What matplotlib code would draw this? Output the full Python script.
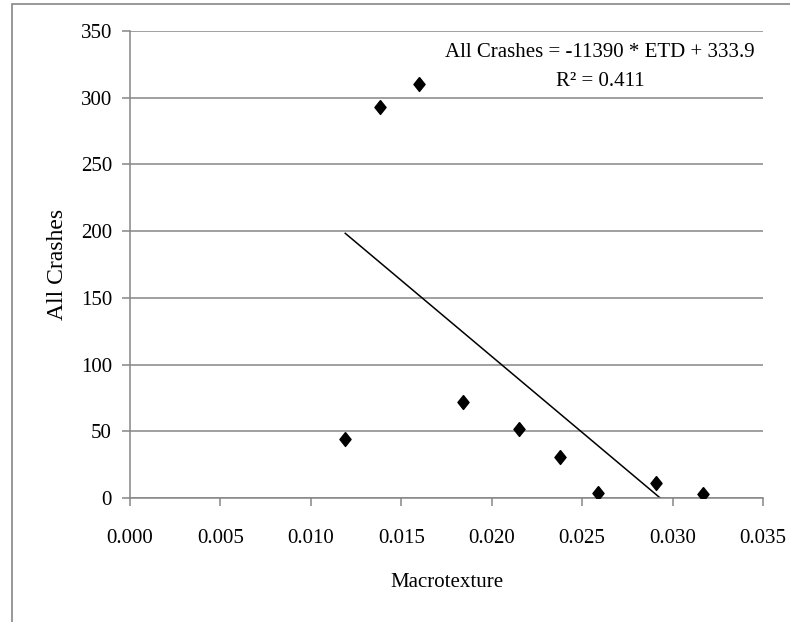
import numpy as np
import matplotlib
matplotlib.use("Agg")
import matplotlib.pyplot as plt
from matplotlib.patches import Rectangle

plt.rcParams["font.family"] = ["Liberation Serif", "DejaVu Serif"]

macrotexture = [0.0119, 0.0138, 0.0160, 0.0184, 0.0215, 0.0238, 0.0259, 0.0291, 0.0317]
crashes = [44, 293, 310, 72, 52, 31, 4, 11, 3]
slope = -11390
intercept = 333.9
x_ticks = [0.000, 0.005, 0.010, 0.015, 0.020, 0.025, 0.030, 0.035]
y_ticks = [0, 50, 100, 150, 200, 250, 300, 350]

grey = "#868686"

fig = plt.figure(figsize=(7.9, 6.22), dpi=100)
ax = fig.add_axes([0.1646, 0.1994, 0.8012, 0.7508])

# outer chart border (only left/top visible in the reference)
fig.patches.append(Rectangle((12 / 790, -0.1), 1.2, 1.0936, transform=fig.transFigure,
                             fill=False, edgecolor=grey, linewidth=1.2))

diamond = [(0, 1), (0.8, 0), (0, -1), (-0.8, 0), (0, 1)]
ax.plot(macrotexture, crashes, linestyle="none", marker=diamond, markersize=10,
        color="black", zorder=3)

# linear trend line over the data range
xt = np.array([min(macrotexture), max(macrotexture)])
ax.plot(xt, slope * xt + intercept, color="black", linewidth=1.1, zorder=2)

ax.set_xlim(0, 0.035)
ax.set_ylim(0, 350)
ax.set_xticks(x_ticks)
ax.set_xticklabels([f"{v:.3f}" for v in x_ticks])
ax.set_yticks(y_ticks)
ax.yaxis.grid(True, color=grey, linewidth=1.1)
ax.set_axisbelow(True)

for s in ["top", "right"]:
    ax.spines[s].set_visible(False)
for s in ["left", "bottom"]:
    ax.spines[s].set_color(grey)
    ax.spines[s].set_linewidth(1.1)
ax.tick_params(axis="both", direction="out", length=6, color=grey, width=1.1,
               labelsize=15, pad=7)
ax.tick_params(axis="x", pad=16)

ax.set_xlabel("Macrotexture", fontsize=15, va="center")
ax.xaxis.set_label_coords(0.5, -0.18)
ax.set_ylabel("All Crashes", fontsize=17, va="center")
ax.yaxis.set_label_coords(-0.115, 0.5)

ax.text(0.026, 334, "All Crashes = -11390 * ETD + 333.9", fontsize=15,
        ha="center", va="center")
ax.text(0.026, 312, "R² = 0.411", fontsize=15, ha="center", va="center")

fig.savefig("out.png", dpi=100)
